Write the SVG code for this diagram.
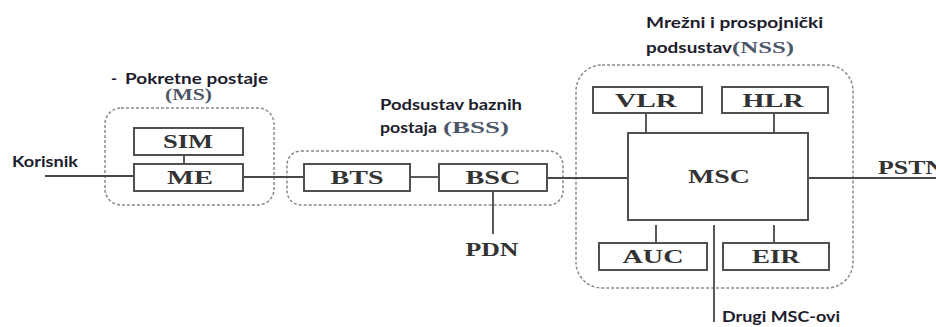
<svg xmlns="http://www.w3.org/2000/svg" width="936" height="327" viewBox="0 0 936 327">
<style>
.box{fill:#fff;stroke:#505050;stroke-width:2}
.grp{fill:none;stroke:#8a8a8a;stroke-width:1.5;stroke-dasharray:3 2}
.ln{stroke:#484848;stroke-width:1.8;fill:none}
.sl{font-family:"Liberation Serif","Times New Roman",serif;font-weight:bold;font-size:18px;fill:#333;text-anchor:middle}
.ss{font-family:Lato,"Liberation Sans",sans-serif;font-weight:bold;font-size:16px;fill:#1c1c2c}
.sp{font-family:"Liberation Serif","Times New Roman",serif;font-weight:bold;font-size:16px;fill:#4e566a}
</style>
<rect width="936" height="327" fill="#fff"/>
<g id="groups">
<rect id="ms-group" class="grp" x="105" y="108" width="169" height="97" rx="16"/>
<rect id="bss-group" class="grp" x="287" y="151" width="276" height="54" rx="14"/>
<rect id="nss-group" class="grp" x="576" y="65" width="277" height="223" rx="26"/>
</g>
<g id="connectors">
<line class="ln" x1="45" y1="176" x2="134" y2="176"/>
<line class="ln" x1="184" y1="155" x2="184" y2="164"/>
<line class="ln" x1="243" y1="177" x2="304" y2="177"/>
<line class="ln" x1="410" y1="177" x2="439" y2="177"/>
<line class="ln" x1="493" y1="191" x2="493" y2="234"/>
<line class="ln" x1="547" y1="178" x2="628" y2="178"/>
<line class="ln" x1="808" y1="178" x2="936" y2="178"/>
<line class="ln" x1="646" y1="113" x2="646" y2="133"/>
<line class="ln" x1="774" y1="113" x2="774" y2="133"/>
<line class="ln" x1="656" y1="225" x2="656" y2="243"/>
<line class="ln" x1="774" y1="225" x2="774" y2="243"/>
<line class="ln" x1="714" y1="225" x2="714" y2="322"/>
</g>
<g id="labels">
<text class="ss" x="12" y="167" textLength="66" lengthAdjust="spacingAndGlyphs">Korisnik</text>
<text class="ss" x="111" y="84">-</text>
<text class="ss" x="125" y="84" textLength="143" lengthAdjust="spacingAndGlyphs">Pokretne postaje</text>
<text class="sp" x="165" y="100" textLength="47" lengthAdjust="spacingAndGlyphs">(MS)</text>
<text class="ss" x="380" y="110" textLength="142" lengthAdjust="spacingAndGlyphs">Podsustav baznih</text>
<text class="ss" x="380" y="133" textLength="57" lengthAdjust="spacingAndGlyphs">postaja</text>
<text class="sp" x="443" y="133" textLength="66" lengthAdjust="spacingAndGlyphs">(BSS)</text>
<text class="ss" x="646" y="28" textLength="177" lengthAdjust="spacingAndGlyphs">Mrežni i prospojnički</text>
<text class="ss" x="646" y="53" textLength="86" lengthAdjust="spacingAndGlyphs">podsustav</text>
<text class="sp" x="732" y="53" textLength="62" lengthAdjust="spacingAndGlyphs">(NSS)</text>
<text class="sl" x="492" y="256" textLength="53" lengthAdjust="spacingAndGlyphs">PDN</text>
<text class="sl" x="878" y="174" text-anchor="start" style="text-anchor:start" textLength="66" lengthAdjust="spacingAndGlyphs">PSTN</text>
<text class="ss" x="722" y="322" textLength="118" lengthAdjust="spacingAndGlyphs">Drugi MSC-ovi</text>
</g>
<g id="node-sim"><rect class="box" x="134" y="128" width="109" height="27"/><text class="sl" x="188" y="148" textLength="50" lengthAdjust="spacingAndGlyphs">SIM</text></g>
<g id="node-me"><rect class="box" x="134" y="164" width="109" height="27"/><text class="sl" x="190" y="184" textLength="46" lengthAdjust="spacingAndGlyphs">ME</text></g>
<g id="node-bts"><rect class="box" x="304" y="164" width="106" height="27"/><text class="sl" x="357" y="184" textLength="53" lengthAdjust="spacingAndGlyphs">BTS</text></g>
<g id="node-bsc"><rect class="box" x="439" y="164" width="108" height="27"/><text class="sl" x="493" y="184" textLength="55" lengthAdjust="spacingAndGlyphs">BSC</text></g>
<g id="node-vlr"><rect class="box" x="593" y="87" width="109" height="26"/><text class="sl" x="646" y="107" textLength="62" lengthAdjust="spacingAndGlyphs">VLR</text></g>
<g id="node-hlr"><rect class="box" x="722" y="87" width="106" height="26"/><text class="sl" x="773" y="107" textLength="61" lengthAdjust="spacingAndGlyphs">HLR</text></g>
<g id="node-msc"><rect class="box" x="628" y="133" width="180" height="87"/><text class="sl" x="719" y="183" textLength="62" lengthAdjust="spacingAndGlyphs">MSC</text></g>
<g id="node-auc"><rect class="box" x="599" y="243" width="108" height="27"/><text class="sl" x="653" y="263" textLength="61" lengthAdjust="spacingAndGlyphs">AUC</text></g>
<g id="node-eir"><rect class="box" x="723" y="243" width="106" height="27"/><text class="sl" x="776" y="263" textLength="48" lengthAdjust="spacingAndGlyphs">EIR</text></g>
</svg>
